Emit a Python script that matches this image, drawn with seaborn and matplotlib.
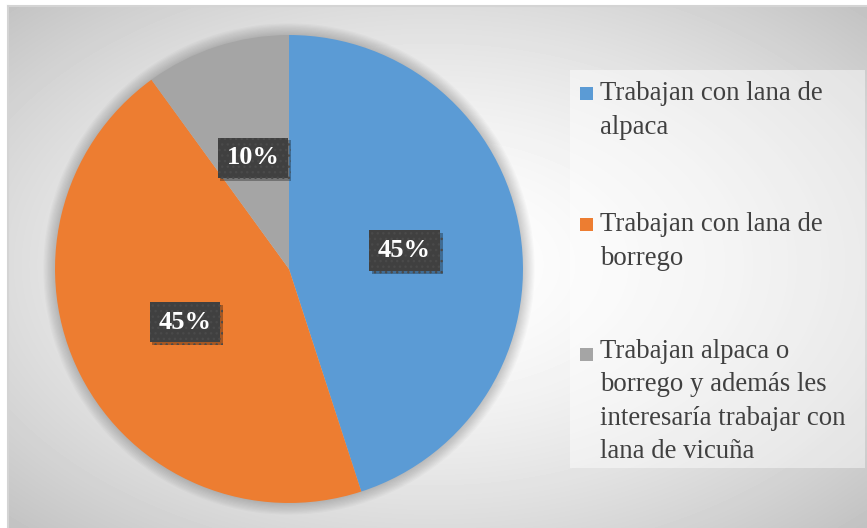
import numpy as np
import matplotlib.pyplot as plt
import matplotlib.patheffects as pe
from matplotlib.patches import Rectangle, Circle
import seaborn as sns

# -----------------------------
# Data
# -----------------------------
categorias = [
    "Trabajan con lana de\nalpaca",
    "Trabajan con lana de\nborrego",
    "Trabajan alpaca o\nborrego y además les\ninteresaría trabajar con\nlana de vicuña",
]
porcentajes = [45, 45, 10]
colores = ["#5B9BD5", "#ED7D31", "#A5A5A5"]

sns.set_style("white")
plt.rcParams["font.family"] = ["Liberation Serif", "DejaVu Serif"]
palette = sns.color_palette(colores)

W, H = 867, 528
fig = plt.figure(figsize=(W / 100, H / 100), dpi=100)
fig.patch.set_facecolor("white")

# -----------------------------
# Background (radial gradient)
# -----------------------------
bg = fig.add_axes([8 / W, 0, 1 - 8 / W, (H - 6) / H])
bw, bh = W - 8, H - 6
yy, xx = np.mgrid[0:bh, 0:bw]
r = np.sqrt(((xx - 425) / (bw / 2)) ** 2 + ((yy - 258) / (bh / 2)) ** 2) / np.sqrt(2)
val = 1 - 0.24 * np.clip(r, 0, 1) ** 1.6
bg.imshow(val, cmap="gray", vmin=0, vmax=1, aspect="auto", interpolation="bilinear")
bg.set_xticks([])
bg.set_yticks([])
for side in ["right", "bottom"]:
    bg.spines[side].set_visible(False)
for side in ["top", "left"]:
    bg.spines[side].set_color("#d4d4d4")
    bg.spines[side].set_linewidth(1.5)

# -----------------------------
# Pie
# -----------------------------
cx, cy, rad = 289, 269, 234
lim = 1.08
ext = rad * lim
ax = fig.add_axes([(cx - ext) / W, (H - cy - ext) / H, 2 * ext / W, 2 * ext / H])
ax.patch.set_alpha(0)

# soft shadow around the pie
for i in range(10):
    ax.add_patch(Circle((0, 0), 1 + 0.005 * (i + 1), color="black", alpha=0.02, lw=0))

wedges, texts, autotexts = ax.pie(
    porcentajes,
    colors=palette,
    startangle=90,
    counterclock=False,
    autopct="%1.0f%%",
    pctdistance=0.5,
    radius=1,
    frame=True,
    wedgeprops=dict(linewidth=0),
)
ax.set_xlim(-lim, lim)
ax.set_ylim(-lim, lim)
ax.axis("off")

for t in autotexts:
    t.set_color("white")
    t.set_fontsize(19)
    t.set_fontweight("bold")
    t.set_bbox(dict(boxstyle="square,pad=0.33", facecolor="#404040",
                    edgecolor="#4a4a4a", linewidth=0, hatch="..."))
    t.get_bbox_patch().set_path_effects([
        pe.SimplePatchShadow(offset=(2, -2), shadow_rgbFace="black", alpha=0.3),
        pe.Normal(),
    ])

# -----------------------------
# Legend (manual, first line aligned with marker)
# -----------------------------
fig.patches.append(Rectangle((570 / W, (H - 468) / H), 295 / W, 398 / H,
                             transform=fig.transFigure, facecolor="white",
                             alpha=0.45, lw=0, zorder=1))
baselines = [102, 233, 363]
pitch = 31.7
for lab, col, yb in zip(categorias, palette, baselines):
    fig.patches.append(Rectangle((580 / W, (H - yb + 2) / H), 13 / W, 13 / H,
                                 transform=fig.transFigure, facecolor=col,
                                 lw=0, zorder=2))
    n = lab.count("\n")
    y_last = yb + n * pitch
    fig.text(600 / W, (H - y_last) / H, lab, fontsize=19.3, color="#404040",
             va="baseline", ha="left", linespacing=1.44, zorder=3)

fig.savefig("out.png", dpi=100)
plt.close()
